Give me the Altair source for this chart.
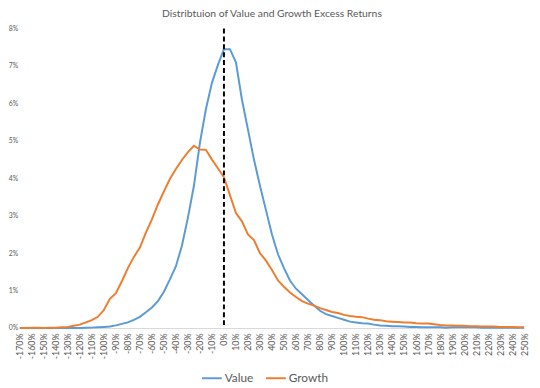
import altair as alt
import pandas as pd

returns = list(range(-170, 255, 5))

value = [0, 0, 0, 0, 0, 0, 0, 0, 0, 0, 0,
         0.005, 0.01, 0.02, 0.03, 0.04, 0.07, 0.11, 0.15, 0.22, 0.3, 0.42, 0.55,
         0.72, 0.97, 1.3, 1.65, 2.2, 2.95, 3.8, 4.95, 5.85, 6.55, 7.03,
         7.45, 7.45, 7.1, 6.1, 5.3, 4.5, 3.8, 3.15, 2.5, 1.97, 1.6, 1.27, 1.05,
         0.9, 0.75, 0.6, 0.46, 0.37, 0.32, 0.27, 0.22, 0.17, 0.15, 0.13, 0.12,
         0.09, 0.07, 0.06, 0.05, 0.05, 0.04, 0.03, 0.03, 0.02, 0.02, 0.02, 0.02,
         0.01, 0.02, 0.02, 0.02, 0.02, 0.02, 0.01, 0.01, 0.01, 0.01, 0.01, 0.01,
         0.01, 0.01]

growth = [0.0, 0.0, 0.01, 0.01, 0.0, 0.01, 0.01, 0.02, 0.03, 0.06, 0.09,
          0.15, 0.21, 0.3, 0.48, 0.78, 0.93, 1.25, 1.6, 1.9, 2.15, 2.55, 2.9,
          3.3, 3.65, 3.98, 4.25, 4.49, 4.7, 4.87, 4.77, 4.76, 4.5, 4.27,
          4.03, 3.55, 3.07, 2.85, 2.5, 2.35, 2.0, 1.8, 1.55, 1.27, 1.1, 0.95, 0.83,
          0.72, 0.65, 0.6, 0.53, 0.48, 0.43, 0.4, 0.35, 0.32, 0.3, 0.29, 0.25,
          0.22, 0.21, 0.18, 0.17, 0.16, 0.15, 0.15, 0.13, 0.12, 0.12, 0.1, 0.08,
          0.07, 0.07, 0.06, 0.06, 0.05, 0.05, 0.04, 0.04, 0.04, 0.03, 0.03, 0.03,
          0.02, 0.02]

x_ticks = list(range(-170, 260, 10))
y_ticks = list(range(0, 9))
series = ["Value", "Growth"]
colors = ["#5B9BD5", "#ED7D31"]

assert len(returns) == len(value) == len(growth)

df = pd.DataFrame({"ret": returns * 2,
                   "pct": value + growth,
                   "series": ["Value"] * len(returns) + ["Growth"] * len(returns)})

FONT = "Lato"
GREY = "#595959"

x_scale = alt.Scale(domain=[-170, 250], nice=False, zero=False)
y_scale = alt.Scale(domain=[0, 8], nice=False)

x_axis = alt.Axis(values=x_ticks, labelExpr="datum.value + '%'", title=None,
                  labelAngle=-90, labelFontSize=9, labelColor=GREY,
                  labelFont=FONT, grid=False, ticks=False,
                  domainColor="#d9d9d9", labelPadding=5, labelOverlap=False,
                  labelSeparation=0, labelFlush=False, labelBound=False)

lines = alt.Chart(df).mark_line(strokeWidth=2).encode(
    x=alt.X("ret:Q", scale=x_scale, axis=x_axis),
    y=alt.Y("pct:Q", scale=y_scale,
            axis=alt.Axis(values=y_ticks, labelExpr="datum.value + '%'", title=None,
                          labelFontSize=7, labelColor=GREY, labelFont=FONT,
                          grid=False, ticks=False, domain=False, labelPadding=2)),
    color=alt.Color("series:N", scale=alt.Scale(domain=series, range=colors),
                    sort=series,
                    legend=alt.Legend(title=None, orient="none", direction="horizontal",
                                      legendX=184, legendY=344, symbolType="stroke",
                                      symbolStrokeWidth=2, symbolSize=400,
                                      labelFontSize=12, labelColor=GREY, labelFont=FONT,
                                      columnPadding=8, symbolOffset=0, labelOffset=2)),
)

zero_line = alt.Chart(pd.DataFrame({"ret": [0]})).mark_rule(
    color="black", strokeWidth=2, strokeDash=[5, 3]).encode(
    x=alt.X("ret:Q", scale=x_scale, axis=x_axis))

chart = alt.layer(lines, zero_line).properties(
    width=512, height=304,
    autosize=alt.AutoSizeParams(type="none"),
    padding={"left": 12, "top": 18, "right": 8, "bottom": 58},
    title=alt.TitleParams("Distribtuion of Value and Growth Excess Returns",
                          fontSize=10.5, font=FONT, color=GREY, fontWeight="normal",
                          anchor="middle", offset=5),
).configure_view(stroke=None).configure_axis(labelOverlap=False).configure_axisX(labelOverlap=False)

chart.save("out.html", embed_options={"renderer": "svg", "actions": False})
